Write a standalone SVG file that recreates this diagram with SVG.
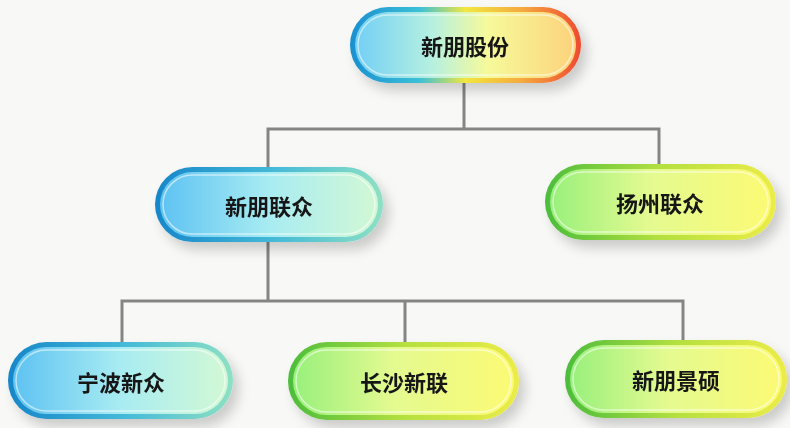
<svg xmlns="http://www.w3.org/2000/svg" width="790" height="428" viewBox="0 0 790 428">
<defs>
<style>
.lbl{font-family:"Noto Sans CJK SC","Noto Sans",sans-serif;font-weight:700;font-size:22px;fill:#161616;text-anchor:middle;dominant-baseline:central}
.con{fill:none;stroke:#858585;stroke-width:3}
.inner{fill:none;stroke:#ffffff;stroke-opacity:0.55;stroke-width:1.5}
</style>
<filter id="sh" x="-20%" y="-30%" width="150%" height="180%">
<feDropShadow dx="6" dy="8" stdDeviation="6" flood-color="#000" flood-opacity="0.18"/>
</filter>
<linearGradient id="topB" x1="0" y1="0" x2="1" y2="0">
<stop offset="0" stop-color="#1a8fd0"/><stop offset="0.3" stop-color="#3cc0d8"/><stop offset="0.5" stop-color="#f2e640"/><stop offset="0.75" stop-color="#f5a840"/><stop offset="1" stop-color="#ee4a30"/>
</linearGradient>
<linearGradient id="topF" x1="0" y1="0" x2="1" y2="0">
<stop offset="0" stop-color="#72cff5"/><stop offset="0.35" stop-color="#b6f0e0"/><stop offset="0.6" stop-color="#f6fa9a"/><stop offset="1" stop-color="#fcd27c"/>
</linearGradient>
<linearGradient id="blueB" x1="0" y1="0" x2="1" y2="0">
<stop offset="0" stop-color="#1786c8"/><stop offset="0.5" stop-color="#42b8d8"/><stop offset="1" stop-color="#8ee0c4"/>
</linearGradient>
<linearGradient id="blueF" x1="0" y1="0" x2="1" y2="0">
<stop offset="0" stop-color="#5ec2f2"/><stop offset="0.5" stop-color="#a8ecf2"/><stop offset="1" stop-color="#d2f8d4"/>
</linearGradient>
<linearGradient id="greenB" x1="0" y1="0" x2="1" y2="0">
<stop offset="0" stop-color="#4cbc3c"/><stop offset="0.5" stop-color="#b4e040"/><stop offset="1" stop-color="#ecec48"/>
</linearGradient>
<linearGradient id="greenF" x1="0" y1="0" x2="1" y2="0">
<stop offset="0" stop-color="#98f07c"/><stop offset="0.45" stop-color="#e4fa90"/><stop offset="1" stop-color="#fcfa74"/>
</linearGradient>
</defs>
<rect width="790" height="428" fill="#f8f8f6"/>
<g id="connectors">
<polyline class="con" points="464,83 464,129"/>
<polyline class="con" points="268,168 268,129 659,129 659,164"/>
<polyline class="con" points="268,242 268,301"/>
<polyline class="con" points="122,343 122,301 683,301 683,341"/>
<polyline class="con" points="405,301 405,343"/>
</g>
<g id="n1" filter="url(#sh)">
<rect x="350" y="7" width="231" height="76" rx="38" fill="url(#topB)"/>
<rect x="355" y="12" width="221" height="66" rx="33" fill="url(#topF)"/>
<rect x="358" y="15" width="215" height="60" rx="30" class="inner"/>
<text class="lbl" x="465" y="45">新朋股份</text>
</g>
<g id="n2" filter="url(#sh)">
<rect x="155" y="167" width="228" height="75" rx="37.5" fill="url(#blueB)"/>
<rect x="160" y="172" width="218" height="65" rx="32.5" fill="url(#blueF)"/>
<rect x="163" y="175" width="212" height="59" rx="29.5" class="inner"/>
<text class="lbl" x="269" y="205">新朋联众</text>
</g>
<g id="n3" filter="url(#sh)">
<rect x="545" y="164" width="231" height="76" rx="38" fill="url(#greenB)"/>
<rect x="550" y="169" width="221" height="66" rx="33" fill="url(#greenF)"/>
<rect x="553" y="172" width="215" height="60" rx="30" class="inner"/>
<text class="lbl" x="660" y="202">扬州联众</text>
</g>
<g id="n4" filter="url(#sh)">
<rect x="8" y="342" width="225" height="77" rx="38.5" fill="url(#blueB)"/>
<rect x="13" y="347" width="215" height="67" rx="33.5" fill="url(#blueF)"/>
<rect x="16" y="350" width="209" height="61" rx="30.5" class="inner"/>
<text class="lbl" x="121" y="381">宁波新众</text>
</g>
<g id="n5" filter="url(#sh)">
<rect x="288" y="342" width="231" height="78" rx="39" fill="url(#greenB)"/>
<rect x="293" y="347" width="221" height="68" rx="34" fill="url(#greenF)"/>
<rect x="296" y="350" width="215" height="62" rx="31" class="inner"/>
<text class="lbl" x="404" y="381">长沙新联</text>
</g>
<g id="n6" filter="url(#sh)">
<rect x="565" y="340" width="222" height="78" rx="39" fill="url(#greenB)"/>
<rect x="570" y="345" width="212" height="68" rx="34" fill="url(#greenF)"/>
<rect x="573" y="348" width="206" height="62" rx="31" class="inner"/>
<text class="lbl" x="676" y="379">新朋景硕</text>
</g>
</svg>
